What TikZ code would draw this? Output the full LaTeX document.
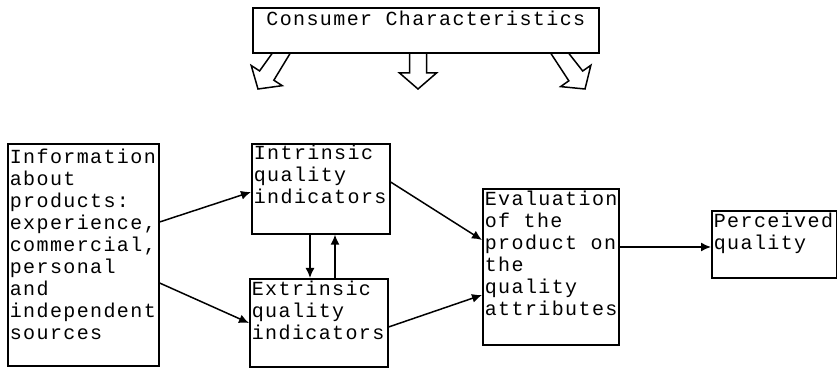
\documentclass[tikz,border=0pt]{standalone}
\usepackage{fontspec}
\setmonofont{Liberation Mono}[LetterSpace=7]
\usetikzlibrary{arrows.meta, calc}
\tikzset{
  % plain boxes, text hung from the top-left corner
  B/.style={draw, line width=0.8pt, anchor=north west, align=left,
    inner xsep=1pt, inner ysep=1.5pt,
    font=\fontsize{10}{11}\selectfont\ttfamily,
    execute at begin node={\spaceskip=6.7pt\xspaceskip=6.7pt\relax}},
  A/.style={-{Latex[length=5pt,width=4.5pt]}, line width=0.75pt},
  % outlined block arrows under the consumer box
  hollow/.style={line width=0.75pt, line join=miter},
}
\begin{document}
\begin{tikzpicture}[x=0.5pt, y=-0.5pt]
\useasboundingbox (0,0) rectangle (837,368);

% top box
\node[B, align=center, text width=171pt, text height=7.5pt, text depth=12pt]
  (cons) at (252,7) {Consumer Characteristics};

% left to right
\node[B, text width=73.5pt, text height=8.5pt, text depth=99.5pt] (info) at (7,143) {
  Information\\about\\products:\\experience,\\commercial,\\personal\\and\\independent\\sources};
\node[B, text width=67pt, text height=6.5pt, text depth=35.5pt] (intr) at (251,143) {
  Intrinsic\\quality\\indicators};
\node[B, text width=67pt, text height=7pt, text depth=34pt] (extr) at (249,278) {
  Extrinsic\\quality\\indicators};
\node[B, text width=66pt, text height=7pt, text depth=68pt] (eval) at (482,188) {
  Evaluation\\of the\\product on\\the\\quality\\attributes};
\node[B, text width=60.5pt, text height=7pt, text depth=23.5pt] (perc) at (711,210) {
  Perceived\\quality};

\draw[A] ($(info.north east)+(0,79)$) -- ($(intr.north west)+(0,49)$);
\draw[A] ($(info.north east)+(0,140)$) -- ($(extr.north west)+(0,45)$);
\draw[A] ($(intr.south west)+(59,0)$) -- ($(extr.north west)+(61,0)$);
\draw[A] ($(extr.north west)+(86,0)$) -- ($(intr.south west)+(84,0)$);
\draw[A] ($(intr.north east)+(0,39)$) -- ($(eval.north west)+(0,52)$);
\draw[A] ($(extr.north east)+(0,49)$) -- ($(eval.north west)+(0,107)$);
\draw[A] ($(eval.north east)+(0,59)$) -- ($(perc.north west)+(0,37)$);

% block arrows
\foreach \n/\dx/\hw/\tx in {a/29/9/258, b/166/8.5/418, c/308/9/585} {
  \coordinate (src\n) at ($(cons.south west)+(\dx,0)$);
  \coordinate (tip\n) at (\tx,89);
  \coordinate (hd) at ($(tip\n)!8pt!(src\n)$);
  \draw[hollow] ($(src\n)+(\hw,0)$) -- ($(hd)!4.25pt!90:(tip\n)$)
    -- ($(hd)!9.25pt!90:(tip\n)$) -- (tip\n) -- ($(hd)!9.25pt!-90:(tip\n)$)
    -- ($(hd)!4.25pt!-90:(tip\n)$) -- ($(src\n)+(-\hw,0)$);
}

\end{tikzpicture}
\end{document}
